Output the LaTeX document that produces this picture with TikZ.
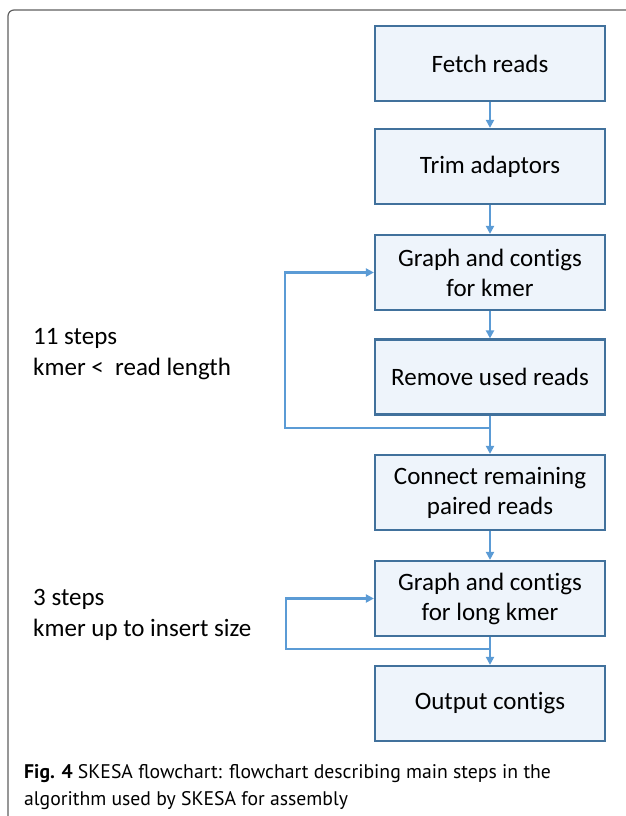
\documentclass[tikz,border=0pt]{standalone}
\usepackage{fontspec}
\setmainfont{Carlito}[Ligatures=NoCommon]
\newfontfamily\capfont{PT Sans}
\usetikzlibrary{arrows.meta}
\definecolor{boxfill}{HTML}{EEF4FB}
\definecolor{boxline}{HTML}{41719C}
\definecolor{arrowcol}{HTML}{5B9BD5}
\definecolor{framecol}{HTML}{606060}
\begin{document}
\begin{tikzpicture}[x=1pt,y=-1pt,
  stepbox/.style={draw=boxline,fill=boxfill,line width=2.2pt,minimum width=230pt,minimum height=75pt,
    align=center,font=\fontsize{25}{30}\selectfont,inner sep=0pt},
  conn/.style={draw=arrowcol,line width=2.2pt,-{Triangle[length=8pt,width=8pt]}},
  lbl/.style={anchor=base west,align=left,font=\fontsize{25}{31}\selectfont,inner sep=0pt}]
\useasboundingbox (0,0) rectangle (626,816);
\draw[framecol,line width=1.2pt,rounded corners=6pt] (8,830) -- (8,10) -- (640,10);
\node[stepbox] (b1) at (490,63.5) {Fetch reads};
\node[stepbox] (b2) at (490,166.5) {Trim adaptors};
\node[stepbox] (b3) at (490,272.5) {Graph and contigs\\for kmer};
\node[stepbox] (b4) at (490,377) {Remove used reads};
\node[stepbox] (b5) at (490,492.5) {Connect remaining\\paired reads};
\node[stepbox] (b6) at (490,598.5) {Graph and contigs\\for long kmer};
\node[stepbox] (b7) at (490,703.5) {Output contigs};
\draw[conn] (b1) -- (b2);
\draw[conn] (b2) -- (b3);
\draw[conn] (b3) -- (b4);
\draw[conn] (b4) -- (b5);
\draw[conn] (b5) -- (b6);
\draw[conn] (b6) -- (b7);
\coordinate (j1) at (490,428);
\coordinate (j2) at (490,649);
\draw[conn] (j1) -- (285,428) -- (285,272.5) -- (b3.west);
\draw[conn] (j2) -- (286,649) -- (286,598.5) -- (b6.west);
\node[lbl] (t1) at (33,375) {11 steps\\kmer <\ \ read length};
\node[lbl] (t2) at (33,636) {3 steps\\kmer up to insert size};
\node[anchor=base west,align=left,inner sep=0pt,font=\capfont\fontsize{19.7}{27}\selectfont] (cap) at (24,805)
  {\textbf{Fig. 4} SKESA flowchart: flowchart describing main steps in the\\algorithm used by SKESA for assembly};
\end{tikzpicture}
\end{document}
